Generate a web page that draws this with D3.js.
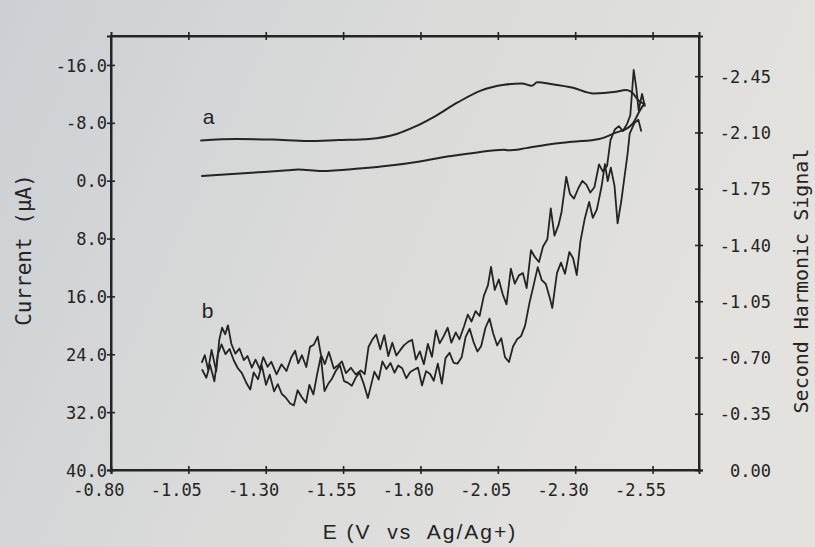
<!DOCTYPE html>
<html>
<head>
<meta charset="utf-8">
<script src="https://cdn.jsdelivr.net/npm/d3@7"></script>
<style>
  html, body { margin: 0; padding: 0; }
  body { width: 815px; height: 547px; overflow: hidden; }
  svg { display: block; }
</style>
</head>
<body>
<svg id="chart" width="815" height="547"></svg>
<script>
// Potential axis (V vs Ag/Ag+) and its ticks
const potentialTicks = [-0.80, -1.05, -1.30, -1.55, -1.80, -2.05, -2.30, -2.55];
// Current axis (µA), cathodic up
const currentTicks = [-16, -8, 0, 8, 16, 24, 32, 40];
// Second harmonic signal axis
const harmonicTicks = [0, -0.35, -0.70, -1.05, -1.40, -1.75, -2.10, -2.45];

// Trace a: cyclic voltammogram, forward sweep then return sweep [E, current]
const curveAForward = [
  [-1.091,-5.55],[-1.206,-5.75],[-1.321,-5.68],[-1.437,-5.47],[-1.536,-5.62],[-1.634,-5.77],
  [-1.723,-6.45],[-1.782,-7.46],[-1.841,-8.76],[-1.920,-10.81],[-1.995,-12.45],[-2.071,-13.25],
  [-2.128,-13.43],[-2.160,-13.11],[-2.177,-13.59],[-2.226,-13.33],[-2.293,-12.84],[-2.359,-12.06],
  [-2.431,-12.30],[-2.464,-12.54],[-2.484,-12.18],[-2.504,-11.11],[-2.523,-10.61]
];
const curveAReturn = [
  [-2.523,-10.61],[-2.509,-9.71],[-2.487,-7.95],[-2.471,-7.33],[-2.431,-6.64],[-2.378,-5.77],
  [-2.290,-5.37],[-2.214,-5.00],[-2.142,-4.50],[-2.083,-4.19],[-2.070,-4.29],[-1.978,-3.87],
  [-1.886,-3.33],[-1.798,-2.65],[-1.709,-2.12],[-1.602,-1.67],[-1.480,-1.33],[-1.405,-1.53],
  [-1.372,-1.43],[-1.241,-1.07],[-1.094,-0.65]
];

// Trace b: second harmonic response, two sweeps [E, signal]
const curveBScan1 = [
  [-1.094,-0.671],[-1.103,-0.715],[-1.114,-0.624],[-1.125,-0.747],[-1.140,-0.614],[-1.150,-0.811],
  [-1.159,-0.886],[-1.169,-0.844],[-1.178,-0.900],[-1.189,-0.784],[-1.202,-0.724],[-1.215,-0.756],
  [-1.229,-0.684],[-1.241,-0.709],[-1.255,-0.637],[-1.267,-0.687],[-1.281,-0.627],[-1.292,-0.702],
  [-1.306,-0.642],[-1.318,-0.673],[-1.335,-0.595],[-1.351,-0.658],[-1.367,-0.616],[-1.382,-0.698],
  [-1.395,-0.742],[-1.405,-0.663],[-1.417,-0.714],[-1.431,-0.641],[-1.443,-0.766],[-1.455,-0.779],
  [-1.468,-0.830],[-1.478,-0.720],[-1.491,-0.659],[-1.504,-0.734],[-1.520,-0.631],[-1.533,-0.650],
  [-1.546,-0.676],[-1.559,-0.603],[-1.575,-0.636],[-1.591,-0.594],[-1.607,-0.620],[-1.620,-0.596],
  [-1.632,-0.765],[-1.644,-0.810],[-1.657,-0.843],[-1.670,-0.751],[-1.683,-0.839],[-1.696,-0.709],
  [-1.709,-0.792],[-1.722,-0.712],[-1.734,-0.744],[-1.747,-0.777],[-1.760,-0.797],[-1.773,-0.810],
  [-1.785,-0.687],[-1.798,-0.738],[-1.811,-0.658],[-1.824,-0.784],[-1.837,-0.704],[-1.850,-0.868],
  [-1.862,-0.788],[-1.875,-0.833],[-1.888,-0.885],[-1.900,-0.792],[-1.914,-0.856],[-1.926,-0.813],
  [-1.940,-0.890],[-1.953,-0.967],[-1.965,-0.924],[-1.978,-0.988],[-1.991,-0.958],[-2.005,-1.085],
  [-2.018,-1.149],[-2.028,-1.264],[-2.040,-1.120],[-2.053,-1.185],[-2.066,-1.092],[-2.078,-1.030],
  [-2.092,-1.252],[-2.105,-1.159],[-2.118,-1.211],[-2.131,-1.225],[-2.143,-1.132],[-2.157,-1.367],
  [-2.170,-1.324],[-2.183,-1.294],[-2.196,-1.390],[-2.210,-1.436],[-2.221,-1.627],[-2.233,-1.458],
  [-2.246,-1.523],[-2.256,-1.607],[-2.271,-1.824],[-2.283,-1.718],[-2.296,-1.688],[-2.310,-1.753],
  [-2.323,-1.799],[-2.336,-1.775],[-2.349,-1.726],[-2.362,-1.759],[-2.377,-1.901],[-2.389,-1.858],
  [-2.403,-1.892],[-2.414,-2.052],[-2.428,-2.118],[-2.441,-2.139],[-2.454,-2.109],[-2.468,-2.155],
  [-2.478,-2.207],[-2.489,-2.489],[-2.497,-2.382],[-2.505,-2.237],[-2.516,-2.340],[-2.525,-2.265]
];
const curveBScan2 = [
  [-1.095,-0.622],[-1.108,-0.574],[-1.120,-0.655],[-1.134,-0.552],[-1.145,-0.719],[-1.157,-0.781],
  [-1.170,-0.721],[-1.183,-0.753],[-1.197,-0.681],[-1.210,-0.633],[-1.223,-0.603],[-1.237,-0.543],
  [-1.250,-0.501],[-1.261,-0.607],[-1.275,-0.565],[-1.287,-0.652],[-1.301,-0.530],[-1.313,-0.593],
  [-1.327,-0.489],[-1.339,-0.534],[-1.352,-0.473],[-1.365,-0.450],[-1.379,-0.414],[-1.391,-0.402],
  [-1.403,-0.496],[-1.416,-0.454],[-1.430,-0.418],[-1.441,-0.530],[-1.454,-0.470],[-1.466,-0.595],
  [-1.478,-0.707],[-1.490,-0.491],[-1.502,-0.536],[-1.514,-0.568],[-1.527,-0.619],[-1.540,-0.651],
  [-1.553,-0.553],[-1.566,-0.542],[-1.578,-0.524],[-1.591,-0.575],[-1.603,-0.607],[-1.617,-0.534],
  [-1.630,-0.448],[-1.639,-0.517],[-1.651,-0.612],[-1.665,-0.563],[-1.677,-0.676],[-1.690,-0.628],
  [-1.703,-0.666],[-1.716,-0.605],[-1.728,-0.650],[-1.741,-0.633],[-1.754,-0.571],[-1.767,-0.610],
  [-1.779,-0.624],[-1.792,-0.637],[-1.805,-0.526],[-1.818,-0.615],[-1.831,-0.597],[-1.843,-0.555],
  [-1.856,-0.662],[-1.869,-0.538],[-1.881,-0.696],[-1.894,-0.729],[-1.907,-0.667],[-1.920,-0.662],
  [-1.933,-0.701],[-1.946,-0.828],[-1.959,-0.879],[-1.971,-0.799],[-1.984,-0.737],[-1.996,-0.770],
  [-2.010,-0.885],[-2.023,-0.942],[-2.035,-0.849],[-2.048,-0.775],[-2.061,-0.820],[-2.073,-0.702],
  [-2.086,-0.672],[-2.099,-0.768],[-2.112,-0.813],[-2.125,-0.833],[-2.138,-0.898],[-2.152,-1.038],
  [-2.166,-1.153],[-2.179,-1.262],[-2.192,-1.181],[-2.205,-1.157],[-2.217,-1.077],[-2.226,-1.008],
  [-2.241,-1.225],[-2.254,-1.290],[-2.267,-1.221],[-2.281,-1.356],[-2.293,-1.319],[-2.305,-1.213],
  [-2.317,-1.424],[-2.331,-1.565],[-2.345,-1.668],[-2.357,-1.568],[-2.370,-1.621],[-2.385,-1.762],
  [-2.396,-1.903],[-2.405,-1.797],[-2.415,-1.881],[-2.427,-1.768],[-2.437,-1.534],[-2.449,-1.675],
  [-2.457,-1.791],[-2.469,-1.964],[-2.476,-2.093],[-2.491,-2.158],[-2.504,-2.179],[-2.513,-2.110]
];

// Trace labels placed in data space
const traceLabels = [
  { text: "a", E: -1.115, axis: "current", value: -8.9 },
  { text: "b", E: -1.112, axis: "harmonic", value: -0.99 }
];

const W = 815, H = 547;
const plot = { left: 111, right: 699, top: 36, bottom: 470 };
const ink = "#242424";
const monoFont = "'DejaVu Sans Mono', monospace";
const sansFont = "'Liberation Sans', Arial, sans-serif";

const svg = d3.select("#chart");

// paper background
const defs = svg.append("defs");
const grad = defs.append("linearGradient").attr("id", "paper")
  .attr("x1", "0").attr("y1", "0").attr("x2", "1").attr("y2", "0.3");
grad.append("stop").attr("offset", "0%").attr("stop-color", "#ccd0d4");
grad.append("stop").attr("offset", "45%").attr("stop-color", "#d9dad9");
grad.append("stop").attr("offset", "100%").attr("stop-color", "#e3e2df");
svg.append("rect").attr("width", W).attr("height", H).attr("fill", "url(#paper)");

const x = d3.scaleLinear().domain([-0.80, -2.70]).range([plot.left, plot.right]);
const yCurrent = d3.scaleLinear().domain([40, -20]).range([plot.bottom, plot.top]);
const yHarmonic = d3.scaleLinear().domain([0, -2.70]).range([plot.bottom, plot.top]);

const fmt1 = v => v.toFixed(1);
const fmt2 = v => v.toFixed(2);

// frame
svg.append("rect")
  .attr("x", plot.left).attr("y", plot.top)
  .attr("width", plot.right - plot.left).attr("height", plot.bottom - plot.top)
  .attr("fill", "none").attr("stroke", ink).attr("stroke-width", 2);

function styleAxis(g) {
  g.select(".domain").attr("stroke", ink).attr("stroke-width", 2);
  g.selectAll(".tick line").attr("stroke", ink).attr("stroke-width", 1.6);
  g.selectAll(".tick text")
    .attr("fill", ink)
    .style("font-family", monoFont)
    .style("font-size", "17px");
}

// bottom axis: potential
const gx = svg.append("g").attr("transform", `translate(0,${plot.bottom})`)
  .call(d3.axisBottom(x).tickValues(potentialTicks).tickFormat(fmt2).tickSizeOuter(0).tickSize(4).tickPadding(0));
styleAxis(gx);
gx.selectAll(".tick line").attr("y1", -4).attr("y2", 4);
gx.selectAll(".tick text").attr("text-anchor", "end").attr("x", 13).attr("y", 26).attr("dy", null);

// top edge ticks (unlabelled)
const gxTop = svg.append("g").attr("transform", `translate(0,${plot.top})`)
  .call(d3.axisTop(x).tickValues(potentialTicks.slice(1)).tickFormat("").tickSizeOuter(0).tickSize(4));
styleAxis(gxTop);
gxTop.selectAll(".tick line").attr("y1", -4).attr("y2", 4);

// left axis: current
const gyL = svg.append("g").attr("transform", `translate(${plot.left},0)`)
  .call(d3.axisLeft(yCurrent).tickValues(currentTicks).tickFormat(fmt1).tickSizeOuter(0).tickSize(4).tickPadding(0));
styleAxis(gyL);
gyL.selectAll(".tick line").attr("x1", -4).attr("x2", 4);
gyL.selectAll(".tick text").attr("x", -4).attr("dy", "0.36em");

// right axis: second harmonic signal
const gyR = svg.append("g").attr("transform", `translate(${plot.right},0)`)
  .call(d3.axisRight(yHarmonic).tickValues(harmonicTicks).tickFormat(fmt2).tickSizeOuter(0).tickSize(4).tickPadding(0));
styleAxis(gyR);
gyR.selectAll(".tick line").attr("x1", -4).attr("x2", 4);
gyR.selectAll(".tick text").attr("text-anchor", "end").attr("x", 72).attr("dy", "0.36em");

// axis titles
svg.append("text")
  .attr("transform", `translate(31,${250}) rotate(-90)`)
  .attr("text-anchor", "middle")
  .attr("fill", ink)
  .style("font-family", monoFont).style("font-size", "21px")
  .text("Current (µA)");

svg.append("text")
  .attr("transform", `translate(808,${281}) rotate(-90)`)
  .attr("text-anchor", "middle")
  .attr("fill", ink)
  .style("font-family", monoFont).style("font-size", "20px")
  .text("Second Harmonic Signal");

svg.append("text")
  .attr("x", 420).attr("y", 539)
  .attr("text-anchor", "middle")
  .attr("fill", ink)
  .style("font-family", sansFont).style("font-size", "21px")
  .style("letter-spacing", "2px")
  .style("white-space", "pre")
  .text("E (V  vs  Ag/Ag+)");

// traces
const lineA = d3.line().x(d => x(d[0])).y(d => yCurrent(d[1])).curve(d3.curveMonotoneX);
const lineB = d3.line().x(d => x(d[0])).y(d => yHarmonic(d[1])).curve(d3.curveLinear);

const traces = svg.append("g").attr("fill", "none").attr("stroke", ink)
  .attr("stroke-linejoin", "round").attr("stroke-linecap", "round");

traces.append("path").attr("d", lineA(curveAForward)).attr("stroke-width", 2);
traces.append("path").attr("d", lineA(curveAReturn.slice().reverse())).attr("stroke-width", 2);
traces.append("path").attr("d", lineB(curveBScan1)).attr("stroke-width", 1.8);
traces.append("path").attr("d", lineB(curveBScan2)).attr("stroke-width", 1.8);

// trace labels
svg.selectAll("text.trace-label").data(traceLabels).join("text")
  .attr("class", "trace-label")
  .attr("x", d => x(d.E))
  .attr("y", d => d.axis === "current" ? yCurrent(d.value) : yHarmonic(d.value))
  .attr("dy", "0.35em")
  .attr("text-anchor", "middle")
  .attr("fill", ink)
  .style("font-family", sansFont).style("font-size", "21px")
  .text(d => d.text);
</script>
</body>
</html>
